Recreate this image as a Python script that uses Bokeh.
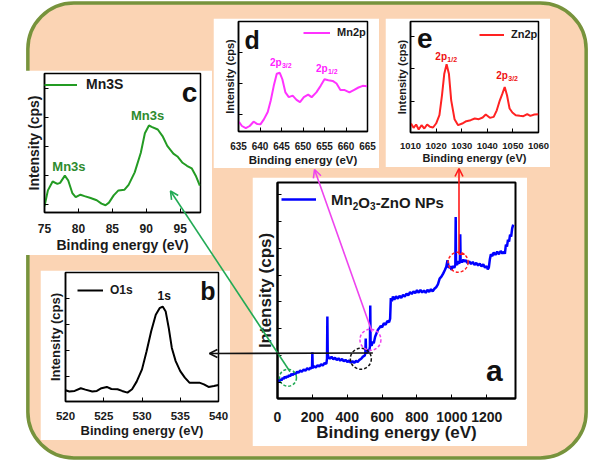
from bokeh.plotting import figure
from bokeh.layouts import column
from bokeh.models import Range1d, FixedTicker, Label, Arrow, OpenHead, Legend, LegendItem
from bokeh.core.properties import value
from bokeh.embed import file_html
from bokeh.resources import INLINE

FONT = "Liberation Sans"

# ---------------- data (intensity in % of frame) -------------
# (a) survey spectrum
survey_ev = [0, 6, 12, 18, 24, 30, 36, 42, 48, 54,
             60, 66, 72, 80, 88, 96, 104, 112, 120, 130,
             140, 150, 160, 170, 180, 190, 198, 200, 202, 210,
             220, 230, 240, 250, 260, 270, 280, 284, 286, 288,
             292, 300, 310, 320, 330, 340, 350, 360, 370, 380,
             390, 400, 410, 420, 430, 440, 450, 460, 470, 480,
             490, 500, 504, 506, 508, 514, 520, 526, 530, 532,
             534, 540, 546, 552, 560, 568, 576, 584, 592, 600,
             610, 620, 630, 640, 646, 650, 656, 662, 670, 680,
             690, 700, 710, 720, 730, 740, 750, 760, 770, 780,
             790, 800, 810, 820, 830, 840, 850, 860, 870, 880,
             890, 900, 910, 920, 930, 940, 950, 960, 968, 975,
             982, 990, 998, 1006, 1014, 1020, 1022, 1024, 1030, 1036,
             1042, 1046, 1048, 1050, 1058, 1066, 1074, 1082, 1090, 1100,
             1110, 1120, 1130, 1140, 1150, 1160, 1170, 1180, 1190, 1200,
             1206, 1212, 1218, 1224, 1232, 1240, 1250, 1260, 1270, 1280,
             1290, 1298, 1304, 1310, 1316, 1322, 1328, 1334, 1340, 1346,
             1352]
survey_int = [7.8, 8.6, 7.9, 9.0, 8.4, 9.6, 9.0, 10.2, 9.4, 10.4,
              9.8, 10.9, 10.3, 11.4, 10.8, 11.9, 11.3, 12.4, 11.9, 12.9,
              12.4, 13.4, 12.9, 14.0, 13.4, 14.3, 13.9, 21.4, 14.2, 14.9,
              14.3, 15.4, 14.9, 15.8, 15.3, 16.4, 16.0, 18.5, 38.0, 20.5,
              19.2, 18.4, 19.3, 18.2, 18.9, 17.8, 18.6, 17.5, 18.3, 17.2,
              17.9, 16.9, 17.6, 16.6, 17.3, 16.5, 17.4, 16.9, 17.9, 18.4,
              19.4, 19.8, 21.0, 27.8, 21.5, 21.0, 22.5, 22.0, 24.0, 43.0,
              25.0, 24.5, 26.3, 25.6, 28.6, 30.2, 31.8, 32.6, 33.6, 33.0,
              34.8, 34.2, 35.8, 35.4, 37.0, 46.5, 45.0, 47.2, 45.8, 47.3,
              46.2, 47.5, 46.6, 48.0, 47.2, 48.6, 47.8, 49.2, 48.4, 49.6,
              48.8, 50.1, 49.0, 50.2, 49.1, 50.0, 48.9, 50.3, 49.4, 50.6,
              49.6, 50.8, 51.5, 52.8, 55.5, 56.4, 57.8, 59.5, 61.0, 64.0,
              60.5, 61.2, 59.6, 61.4, 60.5, 62.0, 84.0, 62.5, 61.8, 63.6,
              62.4, 63.8, 76.0, 64.2, 63.0, 64.3, 63.4, 64.0, 62.6, 63.5,
              62.3, 63.2, 61.9, 62.8, 61.6, 62.4, 61.2, 62.1, 60.6, 61.3,
              59.8, 60.6, 64.5, 66.8, 65.9, 67.6, 66.5, 68.0, 66.8, 68.3,
              67.1, 67.9, 67.0, 71.2, 70.3, 73.5, 72.6, 75.8, 75.0, 78.8,
              80.5]

# (b) O1s
o1s_ev = [520.0, 520.5, 521.2, 522.0, 522.6, 523.5, 524.1, 524.7, 525.4, 526.0,
          526.8, 527.4, 528.1, 528.7, 529.3, 530.0, 530.6, 531.2, 531.8, 532.3,
          532.7, 533.1, 533.5, 533.9, 534.4, 535.0, 535.6, 536.2, 536.9, 537.5,
          538.1, 538.7, 539.4, 540.0]
o1s_int = [8.7, 7.7, 8.2, 10.3, 9.2, 7.7, 8.2, 10.3, 11.3, 9.7,
           9.5, 8.2, 6.9, 9.5, 15.4, 24.9, 39.0, 54.4, 67.2, 72.3,
           73.6, 69.7, 56.9, 41.5, 31.3, 23.6, 18.5, 14.6, 14.6, 14.6,
           13.3, 11.3, 12.0, 12.8]

# (c) Mn3s
mn3s_ev = [75.0, 75.5, 76.2, 76.9, 77.3, 78.0, 78.5, 79.1, 79.6, 80.3,
           80.9, 81.8, 82.7, 83.4, 84.0, 84.5, 85.2, 85.9, 86.8, 87.4,
           88.3, 89.2, 89.8, 90.4, 90.8, 91.7, 92.4, 93.1, 94.0, 94.6,
           95.3, 96.0, 96.7, 97.3, 97.9]
mn3s_int = [4.5, 15.9, 22.3, 20.6, 21.3, 26.5, 23.0, 14.0, 11.0, 12.8,
            11.8, 10.4, 8.8, 6.4, 5.2, 7.1, 12.3, 15.9, 16.4, 19.9,
            28.9, 43.0, 57.0, 62.6, 61.6, 59.7, 55.0, 47.9, 42.4, 40.3,
            36.0, 33.6, 31.8, 26.5, 19.4]

# (d) Mn2p
mn2p_ev = [635.1, 635.8, 636.7, 637.6, 638.5, 639.4, 640.1, 640.9, 641.8, 642.5,
           643.2, 643.9, 644.6, 645.2, 645.9, 646.7, 647.6, 648.5, 649.3, 650.2,
           651.2, 652.0, 653.1, 654.1, 655.0, 655.9, 656.9, 657.8, 658.7, 659.7,
           660.8, 661.8, 662.9, 663.9, 664.9]
mn2p_int = [8.9, 5.0, 3.0, 5.0, 8.9, 6.8, 6.5, 11.0, 17.8, 28.2,
            41.5, 52.5, 53.4, 47.5, 35.6, 31.2, 32.6, 28.8, 26.7, 31.2,
            33.5, 31.2, 35.6, 41.5, 47.5, 46.6, 46.0, 43.6, 37.7, 37.7,
            35.6, 37.7, 40.0, 41.5, 41.2]

# (e) Zn2p
zn2p_ev = [1010.2, 1011.2, 1012.2, 1013.2, 1014.3, 1015.4, 1016.5, 1017.6, 1018.8, 1020.0,
           1021.3, 1022.3, 1023.2, 1024.1, 1025.0, 1025.9, 1027.2, 1028.6, 1030.2, 1031.8,
           1033.5, 1035.1, 1036.7, 1038.2, 1039.4, 1041.0, 1042.5, 1043.7, 1044.9, 1045.9,
           1046.8, 1047.7, 1048.7, 1049.8, 1051.1, 1052.7, 1054.1, 1055.6, 1056.8, 1058.4,
           1060.0]
zn2p_int = [8.1, 4.2, 7.2, 2.7, 6.6, 3.6, 7.2, 5.1, 4.5, 8.1,
            15.6, 33.5, 53.0, 61.4, 53.0, 29.0, 12.0, 6.6, 8.1, 10.2,
            11.1, 12.6, 12.0, 13.5, 16.2, 13.2, 14.1, 20.0, 29.0, 35.0,
            41.0, 33.5, 21.6, 18.0, 15.6, 15.0, 14.7, 16.5, 15.0, 16.2,
            16.5]

# marked regions in (a)
mark_ev = [60, 478, 533, 1036]
mark_int = [9.6, 18.4, 27.2, 63.1]
mark_color = ["#22aa55", "#111111", "#ee44ee", "#ff2020"]
mark_size = [17, 21, 21, 20]

# ticks
a_xticks = [0, 200, 400, 600, 800, 1000, 1200]
a_yticks = [7.5, 19.9, 32.3, 44.7, 57.1, 69.5, 81.9, 94.3]
b_xticks = [520, 525, 530, 535, 540]
b_yticks = [19.2, 39.5, 59.7, 80.0]
c_xticks = [75, 80, 85, 90, 95]
c_yticks = [5.7, 26.5, 47.4, 68.0, 89.3]
d_xticks = [635, 640, 645, 650, 655, 660, 665]
d_yticks = [15.7, 43.6, 72.1]
e_xticks = [1010, 1020, 1030, 1040, 1050, 1060]
e_yticks = [28.1, 57.5, 86.8]

XLABEL = "Binding energy (eV)"
YLABEL = "Intensity (cps)"

# ---------------- layout (page pixels) ----------------
# box = white panel (l, t, r, b); frame = plot frame (l, t, r, b)
A_BOX, A_FRAME = (252, 177, 527, 446), (275, 182, 524, 398)
B_BOX, B_FRAME = (40, 270, 230, 440), (58, 272, 218, 402)
C_BOX, C_FRAME = (19, 70, 212, 255), (38, 73, 208, 213)
D_BOX, D_FRAME = (213, 18, 379, 168), (229, 21, 372, 133)
E_BOX, E_FRAME = (385, 18, 550, 167), (402, 21, 538, 132)


def panel(box, frame, xr, xticks, yticks, tick_fs, title_fs, ylab_fs,
          tick_sd, title_sd, ylab_sd, outline_w=1.5):
    l, t, r, b = box
    fl, ft, fr, fb = frame
    p = figure(width=r - l, height=b - t, x_range=Range1d(*xr), y_range=Range1d(0, 100),
               output_backend="svg", toolbar_location=None,
               min_border_left=fl - l, min_border_right=r - fr,
               min_border_top=ft - t, min_border_bottom=b - fb,
               border_fill_color="white", background_fill_color="white")
    p.styles = {"position": "absolute", "left": f"{l}px", "top": f"{t}px"}
    p.grid.visible = False
    p.outline_line_color = "black"
    p.outline_line_width = outline_w
    p.outline_line_alpha = 1.0
    xa = p.xaxis[0]
    xa.ticker = FixedTicker(ticks=xticks)
    xa.axis_line_width = outline_w
    xa.major_tick_in = 4
    xa.major_tick_out = 0
    xa.minor_tick_line_color = None
    xa.major_label_text_font = FONT
    xa.major_label_text_font_style = "bold"
    xa.major_label_text_font_size = f"{tick_fs}px"
    xa.major_label_text_color = "#1a1a1a"
    xa.major_label_standoff = tick_sd
    xa.axis_label = XLABEL
    xa.axis_label_text_font = FONT
    xa.axis_label_text_font_style = "bold"
    xa.axis_label_text_font_size = f"{title_fs}px"
    xa.axis_label_text_color = "#1a1a1a"
    xa.axis_label_standoff = title_sd
    ya = p.yaxis[0]
    ya.ticker = FixedTicker(ticks=yticks)
    ya.axis_line_width = outline_w
    ya.major_tick_in = 4
    ya.major_tick_out = 0
    ya.minor_tick_line_color = None
    # the y axis carries tick marks only, no tick labels
    ya.major_label_text_font_size = "1px"
    ya.major_label_text_alpha = 0
    ya.major_label_standoff = 0
    ya.axis_label = YLABEL
    ya.axis_label_text_font = FONT
    ya.axis_label_text_font_style = "bold"
    ya.axis_label_text_font_size = f"{ylab_fs}px"
    ya.axis_label_text_color = "#1a1a1a"
    ya.axis_label_standoff = ylab_sd
    return p


def add_legend(p, renderer, label, frame, x_off, y_center, glyph_w, standoff, fs):
    fl, ft, fr, fb = frame
    pad = 2
    item_h = round(fs * 1.2)
    legend_h = item_h + 2 * pad
    top = y_center - item_h / 2 - pad
    vy = (fb - ft) - top - legend_h
    leg = Legend(items=[LegendItem(label=value(label), renderers=[renderer])],
                 location=(x_off - pad, vy), padding=pad, margin=0,
                 glyph_width=glyph_w, glyph_height=item_h, label_height=item_h,
                 label_standoff=standoff, spacing=0,
                 label_text_font=FONT, label_text_font_style="bold",
                 label_text_font_size=f"{fs}px", label_text_color="#1a1a1a",
                 border_line_color=None, background_fill_alpha=0)
    p.add_layout(leg)


def label(p, x, y, text, fs, color="#111111", x_off=0, y_off=0, align="center",
          baseline="middle"):
    p.add_layout(Label(x=x, y=y, text=text, x_offset=x_off, y_offset=y_off,
                       text_font=FONT, text_font_style="bold", text_font_size=f"{fs}px",
                       text_color=color, text_align=align, text_baseline=baseline))


# ---------------- background ----------------
bg = figure(width=600, height=460, x_range=Range1d(0, 600), y_range=Range1d(0, 460),
            x_axis_location=None, y_axis_location=None, min_border=0,
            output_backend="svg", toolbar_location=None,
            background_fill_color="white", border_fill_color="white", outline_line_color=None)
bg.styles = {"position": "absolute", "left": "0px", "top": "0px"}
bg.grid.visible = False
bg.quad(left=[2.5], right=[597.5], bottom=[2.5], top=[457.5], border_radius=46,
        fill_color="#fbd4b4", line_color="#77933c", line_width=3.5)

# ---------------- panel c ----------------
pc = panel(C_BOX, C_FRAME, (75, 98), c_xticks, c_yticks, 12, 14, 14, 11, 1, 3)
rc = pc.line(mn3s_ev, mn3s_int, line_color="#239b23", line_width=2)
add_legend(pc, rc, "Mn3S", C_FRAME, 2, 10, 33, 9, 14)
label(pc, 78.6, 33, "Mn3s", 13, "#2e8b2e")
label(pc, 90.2, 70, "Mn3s", 13, "#2e8b2e")
label(pc, 96.4, 86, "c", 28)

# ---------------- panel b ----------------
pb = panel(B_BOX, B_FRAME, (520, 540), b_xticks, b_yticks, 11.5, 13, 13, 10, 0, 3)
rb = pb.line(o1s_ev, o1s_int, line_color="black", line_width=2)
add_legend(pb, rb, "O1s", B_FRAME, 14, 17, 26, 7, 12)
label(pb, 532.9, 82, "1s", 12)
label(pb, 538.6, 86, "b", 25)

# ---------------- panel d ----------------
pd_ = panel(D_BOX, D_FRAME, (635, 665), d_xticks, d_yticks, 10, 11.5, 11, 10, 1, 3)
rd = pd_.line(mn2p_ev, mn2p_int, line_color="#ff33ff", line_width=2)
add_legend(pd_, rd, "Mn2p", D_FRAME, 67, 11, 27, 7, 11)
label(pd_, 638.2, 83, "d", 25)
label(pd_, 642.3, 62.5, "2p", 10, "#ff22ff", align="left")
label(pd_, 642.3, 62.5, "3/2", 7, "#ff22ff", x_off=12, y_off=-3, align="left")
label(pd_, 653.0, 57, "2p", 10, "#ff22ff", align="left")
label(pd_, 653.0, 57, "1/2", 7, "#ff22ff", x_off=12, y_off=-3, align="left")

# ---------------- panel e ----------------
pe = panel(E_BOX, E_FRAME, (1010, 1060), e_xticks, e_yticks, 9.5, 11, 11, 10, 0, 3)
re_ = pe.line(zn2p_ev, zn2p_int, line_color="#ff2222", line_width=2)
add_legend(pe, re_, "Zn2p", E_FRAME, 71, 11, 25, 7, 11)
label(pe, 1015.6, 85, "e", 28)
label(pe, 1019.7, 68.5, "2p", 10, "#ee1111", align="left")
label(pe, 1019.7, 68.5, "1/2", 7, "#ee1111", x_off=12, y_off=-3, align="left")
label(pe, 1043.5, 51, "2p", 10, "#ee1111", align="left")
label(pe, 1043.5, 51, "3/2", 7, "#ee1111", x_off=12, y_off=-3, align="left")

# ---------------- panel a ----------------
A_XMAX = 1365
pa = panel(A_BOX, A_FRAME, (0, A_XMAX), a_xticks, a_yticks, 14, 17, 17, 13, -2, 3, outline_w=2)
ra = pa.line(survey_ev, survey_int, line_color="#0000ff", line_width=2.5)
# legend: line sample + "Mn", the rest of Mn2O3-ZnO NPs written with real subscripts
LEG_X_OFF, LEG_Y, LEG_GLYPH, LEG_SD, LEG_FS = 6, 15, 35, 15, 15
add_legend(pa, ra, "Mn", A_FRAME, LEG_X_OFF, LEG_Y, LEG_GLYPH, LEG_SD, LEG_FS)
fl, ft, fr, fb = A_FRAME
txt_x = (LEG_X_OFF + LEG_GLYPH + LEG_SD) / (fr - fl) * A_XMAX
txt_y = (fb - ft - LEG_Y) / (fb - ft) * 100
for piece, dx, fs, sub in [("2", 21.7, 10, True), ("O", 27.3, 15, False),
                           ("3", 39.0, 10, True), ("-ZnO NPs", 44.6, 15, False)]:
    label(pa, txt_x, txt_y, piece, fs, "#1a1a1a", x_off=dx,
          y_off=-8 if sub else -5, align="left", baseline="alphabetic")
pa.scatter(mark_ev, mark_int, marker="circle", size=mark_size, fill_color=None,
           line_color=mark_color, line_dash="3 2", line_width=1.5)
label(pa, 1244, 13, "a", 30)


# ---------------- overlay with connecting arrows ----------------
def a_to_page(ev, inten):
    return fl + ev / A_XMAX * (fr - fl), fb - inten / 100 * (fb - ft)


ov = figure(width=600, height=460, x_range=Range1d(0, 600), y_range=Range1d(460, 0),
            x_axis_location=None, y_axis_location=None, min_border=0,
            output_backend="svg", toolbar_location=None,
            background_fill_color=None, border_fill_color=None, outline_line_color=None)
ov.styles = {"position": "absolute", "left": "0px", "top": "0px"}
ov.grid.visible = False

gx, gy = a_to_page(mark_ev[0], mark_int[0])
kx, ky = a_to_page(mark_ev[1], mark_int[1])
mx, my = a_to_page(mark_ev[2], mark_int[2])
rx, ry = a_to_page(mark_ev[3], mark_int[3])

arrows = [
    (gx - 4, gy - 6, 154.5, 190.5, "#22aa55"),
    (kx + 8, 352.5, 196, 353, "#111111"),
    (mx - 3, my - 8, 308, 169, "#ee44ee"),
    (rx - 2, ry - 8, rx - 2, 168, "#ff1a1a"),
]
for x0, y0, x1, y1, col in arrows:
    ov.add_layout(Arrow(x_start=x0, y_start=y0, x_end=x1, y_end=y1,
                        line_color=col, line_width=1.6,
                        end=OpenHead(size=8, line_color=col, line_width=1.6)))
ov.add_layout(Arrow(x_start=rx - 2, y_start=ry - 8, x_end=rx + 4, y_end=ry - 8,
                    line_color="#ff1a1a", line_width=1.6, end=None))

root = column(bg, pc, pb, pd_, pe, pa, ov, width=600, height=460)
root.styles = {"position": "absolute", "left": "0px", "top": "0px"}

open("out.html", "w").write(file_html(root, INLINE))
